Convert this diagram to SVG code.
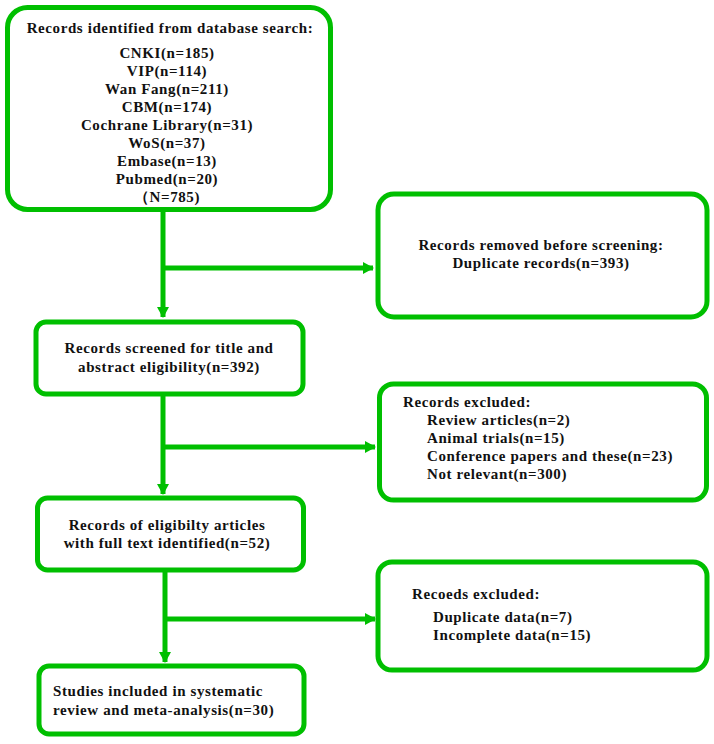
<svg xmlns="http://www.w3.org/2000/svg" width="714" height="744" viewBox="0 0 714 744">
<defs>
<style>
.box{fill:#fff;stroke:#00bf00;stroke-width:5}
.ln{fill:none;stroke:#00bf00;stroke-width:5}
text{font-family:"Liberation Serif","Times New Roman",serif;font-weight:bold;font-size:15px;fill:#111;letter-spacing:0.6px}
.c{text-anchor:middle}
</style>
<marker id="ah" markerWidth="12" markerHeight="12" refX="10" refY="6" orient="auto" markerUnits="userSpaceOnUse">
<path d="M0,0 L11,6 L0,12 Z" fill="#00bf00"/>
</marker>
</defs>
<rect width="714" height="744" fill="#fff"/>
<g id="connectors">
<path class="ln" d="M163,210 V317" marker-end="url(#ah)"/>
<path class="ln" d="M163,268 H373" marker-end="url(#ah)"/>
<path class="ln" d="M163,396 V494" marker-end="url(#ah)"/>
<path class="ln" d="M163,447 H375" marker-end="url(#ah)"/>
<path class="ln" d="M165,572 V662" marker-end="url(#ah)"/>
<path class="ln" d="M165,619 H375" marker-end="url(#ah)"/>
</g>
<g id="n1">
<rect class="box" x="7.5" y="7.5" width="323" height="202" rx="20"/>
<text class="c" x="170" y="33">Records identified from database search:</text>
<text class="c" x="167" y="58">CNKI(n=185)</text>
<text class="c" x="167" y="76">VIP(n=114)</text>
<text class="c" x="167" y="94">Wan Fang(n=211)</text>
<text class="c" x="167" y="112">CBM(n=174)</text>
<text class="c" x="167" y="130">Cochrane Library(n=31)</text>
<text class="c" x="167" y="148">WoS(n=37)</text>
<text class="c" x="167" y="166">Embase(n=13)</text>
<text class="c" x="167" y="184">Pubmed(n=20)</text>
<text class="c" x="167" y="202">（N=785)</text>
</g>
<g id="n2">
<rect class="box" x="378" y="194" width="329" height="123" rx="16"/>
<text class="c" x="541" y="250">Records removed before screening:</text>
<text class="c" x="541" y="268">Duplicate records(n=393)</text>
</g>
<g id="n3">
<rect class="box" x="36" y="322" width="267" height="72" rx="10"/>
<text class="c" x="169" y="353">Records screened for title and</text>
<text class="c" x="169" y="372">abstract eligibility(n=392)</text>
</g>
<g id="n4">
<rect class="box" x="379.5" y="384" width="327" height="116" rx="14"/>
<text x="403" y="407">Records excluded:</text>
<text x="427" y="425">Review articles(n=2)</text>
<text x="427" y="443">Animal trials(n=15)</text>
<text x="427" y="461">Conference papers and these(n=23)</text>
<text x="427" y="479">Not relevant(n=300)</text>
</g>
<g id="n5">
<rect class="box" x="37.5" y="498" width="266" height="72" rx="10"/>
<text class="c" x="167" y="530">Records of eligibilty articles</text>
<text class="c" x="167" y="548">with full text identified(n=52)</text>
</g>
<g id="n6">
<rect class="box" x="378" y="562" width="329" height="108" rx="14"/>
<text x="412" y="599">Recoeds excluded:</text>
<text x="433" y="622">Duplicate data(n=7)</text>
<text x="433" y="640">Incomplete data(n=15)</text>
</g>
<g id="n7">
<rect class="box" x="39" y="666" width="265" height="68" rx="10"/>
<text x="53" y="696">Studies included in systematic</text>
<text x="53" y="715">review and meta-analysis(n=30)</text>
</g>
</svg>
